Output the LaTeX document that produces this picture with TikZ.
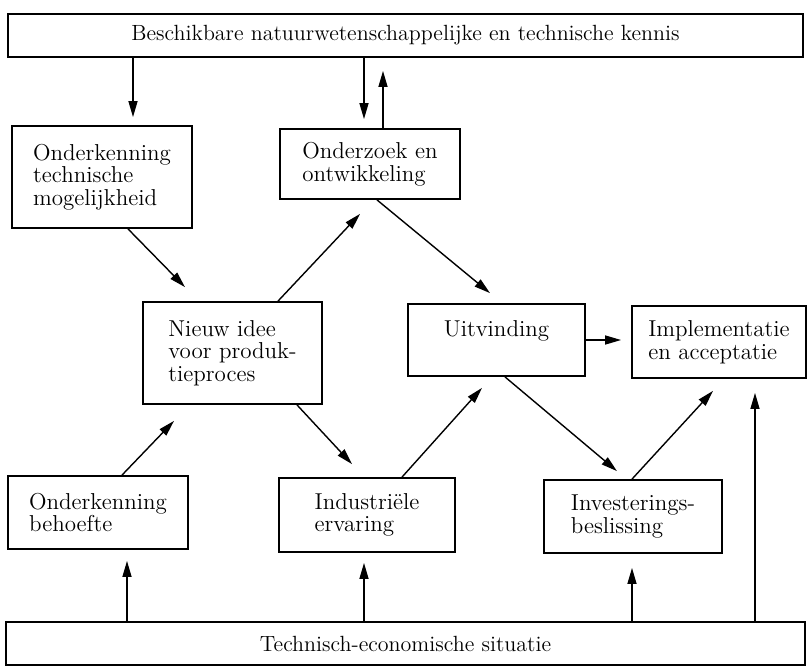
\documentclass[tikz,border=0pt]{standalone}
\usepackage{fontspec}
\usetikzlibrary{arrows.meta,calc}
\tikzset{
	blok/.style={draw, line width=0.9pt, inner sep=0pt, align=left, font=\fontsize{11.5}{11.3}\selectfont},
	balk/.style={blok, font=\fontsize{11}{11}\selectfont},
	pijl/.style={-{Triangle[length=8pt,width=4.5pt]}, line width=0.7pt}
}
\begin{document}
\begin{tikzpicture}[x=0.5pt, y=-0.5pt]
		\useasboundingbox ( 0, 0 ) rectangle ( 811, 666 );

		% kennis en situatie
		\node [balk, minimum width=397.5pt, minimum height=21.5pt] (kennis) at ( 405.5, 35.5 ) {Beschikbare natuurwetenschappelijke en technische kennis};
		\node [balk, minimum width=399.5pt, minimum height=21.5pt] (situatie) at ( 405.5, 643.5 ) {Technisch-economische situatie};

		% bovenste rij
		\node [blok, minimum width=90pt, minimum height=51pt] (mogelijk) at ( 102, 177 ) {Onderkenning\\technische\\mogelijkheid};
		\node [blok, minimum width=90pt, minimum height=35pt] (onderzoek) at ( 370, 164 ) {Onderzoek en\\ontwikkeling};

		% middelste rij
		\node [blok, minimum width=89.5pt, minimum height=51pt] (idee) at ( 232.5, 353 ) {Nieuw idee\\voor produk-\\tieproces};
		\node [blok, minimum width=88.5pt, minimum height=36pt] (uitvinding) at ( 496.5, 340 ) {Uitvinding\\\mbox{}};
		\node [blok, minimum width=87pt, minimum height=36pt] (implementatie) at ( 719, 342 ) {Implementatie\\en acceptatie};

		% onderste rij
		\node [blok, minimum width=90pt, minimum height=36.5pt] (behoefte) at ( 98, 512.5 ) {Onderkenning\\behoefte};
		\node [blok, minimum width=88pt, minimum height=37pt] (ervaring) at ( 367, 515 ) {Industriële\\ervaring};
		\node [blok, minimum width=89pt, minimum height=36.5pt] (beslissing) at ( 633, 516.5 ) {Investerings-\\beslissing};

		% punten voor de pijlen
		\coordinate (kMogelijk) at ( $ (mogelijk.north) + ( 31, -8 ) $ );
		\coordinate (kOnderzoek) at ( $ (onderzoek.north) + ( -6, -9 ) $ );
		\coordinate (vOnderzoek) at ( $ (onderzoek.north) + ( 13, 0 ) $ );
		\coordinate (kImplementatie) at ( $ (implementatie.south) + ( 36, 14 ) $ );
		\coordinate (kBehoefte) at ( $ (behoefte.south) + ( 29, 11 ) $ );
		\coordinate (kErvaring) at ( $ (ervaring.south) + ( -3, 10 ) $ );
		\coordinate (kBeslissing) at ( $ (beslissing.south) + ( -1, 14 ) $ );

		% pijlen vanuit de kennis
		\draw [pijl] (kennis.south -| kMogelijk) -- (kMogelijk);
		\draw [pijl] (kennis.south -| kOnderzoek) -- (kOnderzoek);
		\draw [pijl] (vOnderzoek) -- ( $ (kennis.south -| vOnderzoek) + ( 0, 13 ) $ );

		% schuine pijlen
		\draw [pijl] ( $ (mogelijk.south) + ( 26, 0 ) $ ) -- ( $ (idee.north) + ( -47.5, -14 ) $ );
		\draw [pijl] ( $ (idee.north) + ( 45.5, 0 ) $ ) -- ( $ (onderzoek.south) + ( -10, 14 ) $ );
		\draw [pijl] ( $ (onderzoek.south) + ( 7, 0 ) $ ) -- ( $ (uitvinding.north) + ( -6.5, -10 ) $ );
		\draw [pijl] (uitvinding.east) -- ( $ (uitvinding.east -| implementatie.west) + ( -10, 0 ) $ );
		\draw [pijl] ( $ (behoefte.north) + ( 24, 0 ) $ ) -- ( $ (idee.south) + ( -58.5, 16 ) $ );
		\draw [pijl] ( $ (idee.south) + ( 64.5, 0 ) $ ) -- ( $ (ervaring.north) + ( -15, -13 ) $ );
		\draw [pijl] ( $ (ervaring.north) + ( 35, 0 ) $ ) -- ( $ (uitvinding.south) + ( -14.5, 11 ) $ );
		\draw [pijl] ( $ (uitvinding.south) + ( 8.5, 0 ) $ ) -- ( $ (beslissing.north) + ( -16, -8 ) $ );
		\draw [pijl] ( $ (beslissing.north) + ( -1, 0 ) $ ) -- ( $ (implementatie.south) + ( -6, 12 ) $ );

		% pijlen vanuit de situatie
		\draw [pijl] (situatie.north -| kBehoefte) -- (kBehoefte);
		\draw [pijl] (situatie.north -| kErvaring) -- (kErvaring);
		\draw [pijl] (situatie.north -| kBeslissing) -- (kBeslissing);
		\draw [pijl] (situatie.north -| kImplementatie) -- (kImplementatie);
	\end{tikzpicture}
\end{document}
